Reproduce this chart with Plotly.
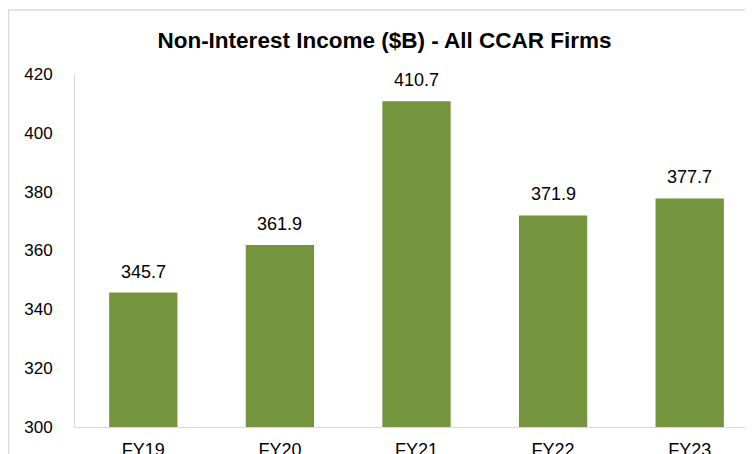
import plotly.graph_objects as go

categories = ["FY19", "FY20", "FY21", "FY22", "FY23"]
values = [345.7, 361.9, 410.7, 371.9, 377.7]
y_ticks = [300, 320, 340, 360, 380, 400, 420]
title_text = "Non-Interest Income ($B) - All CCAR Firms"

FONT = "Liberation Sans, Arial, sans-serif"
BAR_COLOR = "#74943D"
AXIS_COLOR = "#D9D9D9"

fig = go.Figure(
    go.Bar(
        x=categories,
        y=values,
        marker=dict(color=BAR_COLOR, line=dict(width=0)),
        hoverinfo="skip",
    )
)

for c, v in zip(categories, values):
    fig.add_annotation(
        x=c, y=v, text=f"{v:.1f}", showarrow=False,
        yanchor="middle", yshift=21,
        font=dict(family=FONT, size=18, color="#000000"),
    )

# outer chart border
fig.add_shape(type="line", xref="paper", yref="paper",
              x0=-0.0974, x1=-0.0974, y0=-0.2, y1=1.1813,
              line=dict(color=AXIS_COLOR, width=1.5))
fig.add_shape(type="line", xref="paper", yref="paper",
              x0=-0.0974, x1=1.1, y0=1.1813, y1=1.1813,
              line=dict(color=AXIS_COLOR, width=1.5))

fig.update_layout(
    width=753, height=454,
    margin=dict(l=67, r=3, t=66, b=35, autoexpand=False),
    paper_bgcolor="white", plot_bgcolor="white",
    showlegend=False,
    bargap=0.5,
    title=dict(
        text=f"<b>{title_text}</b>",
        x=0.5, xanchor="center", y=0.93, yanchor="middle",
        font=dict(family=FONT, size=22.5, color="#000000"),
        automargin=False,
    ),
    font=dict(family=FONT, color="#000000"),
)
fig.update_xaxes(
    range=[-0.5, 4.5],
    automargin=False,
    showgrid=False, zeroline=False,
    showline=True, linecolor=AXIS_COLOR, linewidth=1,
    ticks="", ticklabelstandoff=6,
    tickfont=dict(family=FONT, size=18, color="#000000"),
)
fig.update_yaxes(
    range=[300, 420],
    automargin=False,
    tickvals=y_ticks,
    showgrid=False, zeroline=False,
    showline=True, linecolor=AXIS_COLOR, linewidth=1,
    ticks="", ticklabelstandoff=18,
    tickfont=dict(family=FONT, size=17, color="#000000"),
)

fig.write_html("out.html")
